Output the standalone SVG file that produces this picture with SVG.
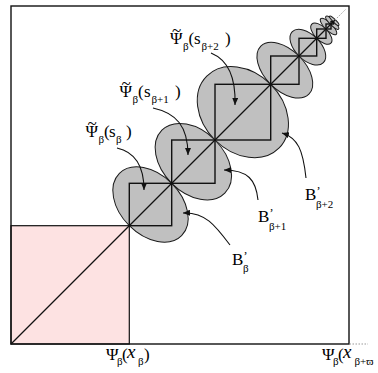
<svg xmlns="http://www.w3.org/2000/svg" width="378" height="373" viewBox="0 0 378 373">
<style>
.ell{fill:#c0c0c0;stroke:#1a1a1a;stroke-width:1}
.sq{fill:none;stroke:#111;stroke-width:1.4}
.t{font-family:"Liberation Serif","DejaVu Serif",serif;fill:#000}
.ptr{fill:none;stroke:#111;stroke-width:1.1;marker-end:url(#ah)}
</style>
<defs>
<marker id="ah" markerUnits="userSpaceOnUse" markerWidth="8" markerHeight="6" refX="7" refY="3" orient="auto">
<path d="M0,0 L7,3 L0,6 z" fill="#111"/>
</marker>
</defs>
<rect width="378" height="373" fill="#fff"/>
<g id="pink-square">
<rect x="11" y="225.7" width="118.3" height="118.3" fill="#fde2e2" stroke="#111" stroke-width="1.2"/>
</g>
<g id="ellipses">
<ellipse id="E1" class="ell" cx="150.5" cy="204.5" rx="44" ry="30" transform="rotate(45 150.5 204.5)"/>
<ellipse id="E2" class="ell" cx="193.35" cy="161.65" rx="44.5" ry="30.6" transform="rotate(45 193.35 161.65)"/>
<ellipse id="E3" class="ell" cx="242.85" cy="112.15" rx="51" ry="39.4" transform="rotate(45 242.85 112.15)"/>
<ellipse id="E4" class="ell" cx="284.85" cy="70.15" rx="34" ry="20" transform="rotate(45 284.85 70.15)"/>
<ellipse id="E5" class="ell" cx="307.85" cy="47.15" rx="22" ry="12.5" transform="rotate(45 307.85 47.15)"/>
<ellipse id="E6" class="ell" cx="321.35" cy="33.65" rx="13.5" ry="6.6" transform="rotate(45 321.35 33.65)"/>
<ellipse id="E7" class="ell" cx="328.5" cy="26.5" rx="11" ry="3.8" transform="rotate(45 328.5 26.5)"/>
<ellipse id="E8" class="ell" cx="332.25" cy="22.75" rx="9" ry="2.4" transform="rotate(45 332.25 22.75)"/>
<ellipse id="E9" class="ell" cx="334.25" cy="20.75" rx="6.5" ry="1.5" transform="rotate(45 334.25 20.75)"/>
</g>
<g id="squares">
<rect class="sq" x="129.3" y="183.3" width="42.4" height="42.4"/>
<rect class="sq" x="171.7" y="140" width="43.3" height="43.3"/>
<rect class="sq" x="215" y="84.3" width="55.7" height="55.7"/>
<rect class="sq" x="270.7" y="56" width="28.3" height="28.3"/>
<rect class="sq" x="299" y="38.3" width="17.7" height="17.7" stroke-width="1.2"/>
<rect class="sq" x="316.7" y="29" width="9.3" height="9.3" stroke-width="1"/>
<rect class="sq" x="326" y="24" width="5" height="5" stroke-width="0.9"/>
<rect class="sq" x="331" y="21.5" width="2.5" height="2.5" stroke-width="0.8"/>
</g>
<g id="frame">
<line x1="11" y1="344" x2="335" y2="20" stroke="#111" stroke-width="1.2"/>
<line x1="335" y1="20" x2="346" y2="9" stroke="#999" stroke-width="1" stroke-dasharray="1.5 1.5"/>
<rect x="11" y="6" width="338" height="338" fill="none" stroke="#111" stroke-width="1.4"/>
<line x1="349.5" y1="344" x2="368" y2="344" stroke="#999" stroke-width="1" stroke-dasharray="1.5 1.5"/>
</g>
<g id="connectors">
<path class="ptr" d="M117,148 C135,152 144,166 144,190"/>
<path class="ptr" d="M153,108 C176,113 188,126 188,155"/>
<path class="ptr" d="M211,53 C228,60 236,76 235,105"/>
<path class="ptr" d="M230,245 C215,225 205,212 183,213"/>
<path class="ptr" d="M258,200 C256,180 248,170 224,170"/>
<path class="ptr" d="M306,178 C303,150 298,138 282,133"/>
</g>
<g id="label-psi-s-beta" class="t">
<text font-size="17"><tspan x="87.5" y="128.5">~</tspan><tspan x="85.5" y="137">Ψ</tspan><tspan x="98.5" y="142.5" font-size="11">β</tspan><tspan x="104" y="137">(</tspan><tspan x="109">s</tspan><tspan x="116" y="142.5" font-size="11">β</tspan><tspan x="126" y="137">)</tspan></text>
</g>
<g id="label-psi-s-beta1" class="t">
<text font-size="17"><tspan x="121.5" y="88.5">~</tspan><tspan x="119.5" y="97">Ψ</tspan><tspan x="132.5" y="102.5" font-size="11">β</tspan><tspan x="138" y="97">(</tspan><tspan x="144">s</tspan><tspan x="151.5" y="102.5" font-size="11">β+1</tspan><tspan x="175" y="97">)</tspan></text>
</g>
<g id="label-psi-s-beta2" class="t">
<text font-size="17"><tspan x="172" y="35.5">~</tspan><tspan x="170" y="44">Ψ</tspan><tspan x="183" y="49.5" font-size="11">β</tspan><tspan x="188.5" y="44">(</tspan><tspan x="194">s</tspan><tspan x="201.5" y="49.5" font-size="11">β+2</tspan><tspan x="225" y="44">)</tspan></text>
</g>
<g id="label-B-beta" class="t">
<text y="265" font-size="17"><tspan x="232">B</tspan><tspan x="243.5" y="259.5" font-size="12">’</tspan><tspan x="243" y="272" font-size="11">β</tspan></text>
</g>
<g id="label-B-beta1" class="t">
<text y="222" font-size="17"><tspan x="258">B</tspan><tspan x="269.5" y="216.5" font-size="12">’</tspan><tspan x="269" y="229.5" font-size="11">β+1</tspan></text>
</g>
<g id="label-B-beta2" class="t">
<text y="200" font-size="17"><tspan x="305">B</tspan><tspan x="316.5" y="194.5" font-size="12">’</tspan><tspan x="316" y="207.5" font-size="11">β+2</tspan></text>
</g>
<g id="label-x-beta" class="t">
<text y="360" font-size="17"><tspan x="106">Ψ</tspan><tspan x="117" y="364.5" font-size="11">β</tspan><tspan x="122" y="360" font-size="17">(</tspan><tspan x="127" y="358" font-size="19" font-style="italic">x</tspan><tspan x="138" y="364.5" font-size="11">β</tspan><tspan x="144" y="360" font-size="17">)</tspan></text>
</g>
<g id="label-x-beta-w" class="t">
<text y="360" font-size="17"><tspan x="322">Ψ</tspan><tspan x="333" y="364.5" font-size="11">β</tspan><tspan x="338" y="360" font-size="17">(</tspan><tspan x="343" y="358" font-size="19" font-style="italic">x</tspan><tspan x="354.5" y="364.5" font-size="11">β+ϖ</tspan></text>
</g>
</svg>
